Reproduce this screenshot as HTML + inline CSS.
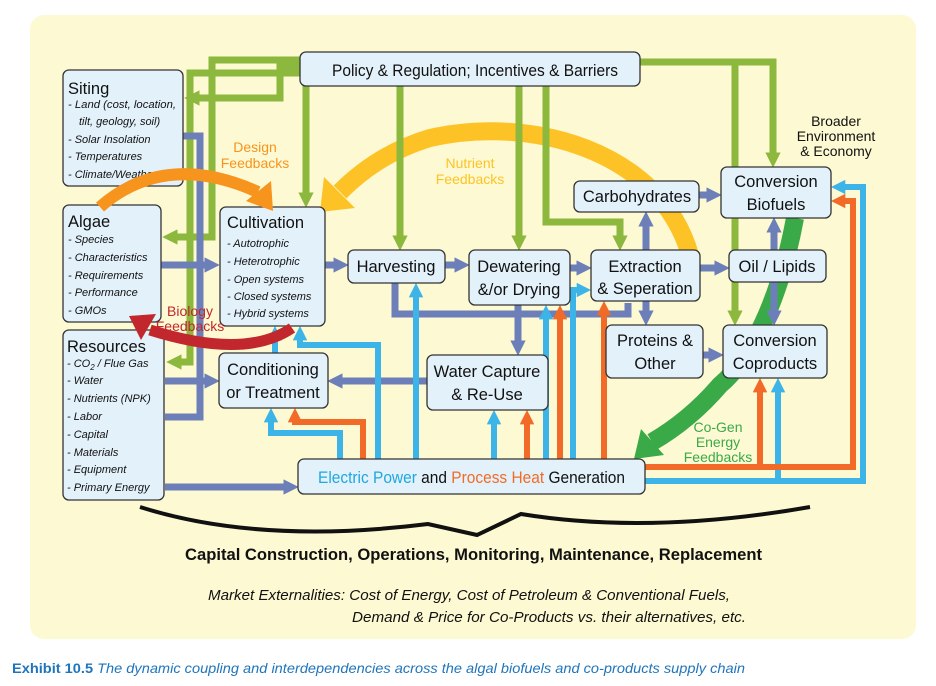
<!DOCTYPE html>
<html><head><meta charset="utf-8"><style>
html,body{margin:0;padding:0;background:#fff;}
svg{display:block;font-family:"Liberation Sans",sans-serif;}
.bx{fill:#e3f1fa;stroke:#333;stroke-width:1.3;}
.t{font-size:16.5px;fill:#111;}
.i{font-size:11px;font-style:italic;fill:#111;}
.g{stroke:#8cb83e;stroke-width:7;fill:none;}
.b{stroke:#6d7fb9;stroke-width:7;fill:none;}
.l{stroke:#3db4e8;stroke-width:6;fill:none;}
.o{stroke:#f26a27;stroke-width:6;fill:none;}
</style></head><body>
<svg width="936" height="686" viewBox="0 0 936 686" xmlns="http://www.w3.org/2000/svg">
<defs>
<marker id="mg" viewBox="0 0 10 10" refX="3" refY="5" markerWidth="2.2" markerHeight="2.2" orient="auto"><path d="M0,0L10,5L0,10z" fill="#8cb83e"/></marker>
<marker id="mb" viewBox="0 0 10 10" refX="3" refY="5" markerWidth="2.2" markerHeight="2.2" orient="auto"><path d="M0,0L10,5L0,10z" fill="#6d7fb9"/></marker>
<marker id="ml" viewBox="0 0 10 10" refX="3" refY="5" markerWidth="2.4" markerHeight="2.4" orient="auto"><path d="M0,0L10,5L0,10z" fill="#3db4e8"/></marker>
<marker id="mo" viewBox="0 0 10 10" refX="3" refY="5" markerWidth="2.4" markerHeight="2.4" orient="auto"><path d="M0,0L10,5L0,10z" fill="#f26a27"/></marker>
</defs>
<rect x="30" y="15" width="886" height="624" rx="14" fill="#fdf9d2"/>

<path d="M690,255 C660,150 530,115 430,138 C390,150 362,170 340,192" stroke="#fdc326" stroke-width="18" fill="none"/>
<polygon points="355,208 324,177 320,212" fill="#fdc326"/>
<path d="M795,218 C780,300 750,360 720,385 Q690,420 652,442" stroke="#3aaa49" stroke-width="18" fill="none"/>
<polygon points="664,455 641,429 634,459" fill="#3aaa49"/>

<path class="g" d="M300,60H212V237H173" marker-end="url(#mg)"/>
<path class="g" d="M300,73H190V362H177" marker-end="url(#mg)"/>
<path class="g" d="M300,67H280V98H195" marker-end="url(#mg)"/>
<path class="g" d="M306,86V197" marker-end="url(#mg)"/>
<path class="g" d="M400,86V240" marker-end="url(#mg)"/>
<path class="g" d="M519,86V240" marker-end="url(#mg)"/>
<path class="g" d="M546,86V222H620V240" marker-end="url(#mg)"/>
<path class="g" d="M640,62H773V157" marker-end="url(#mg)"/>
<path class="g" d="M735,62V315" marker-end="url(#mg)"/>

<path class="b" d="M183,136H200V417H165"/>
<path class="b" d="M165,381H209" marker-end="url(#mb)"/>
<path class="b" d="M161,265H209" marker-end="url(#mb)"/>
<path class="b" d="M325,265H338" marker-end="url(#mb)"/>
<path class="b" d="M445,265H459" marker-end="url(#mb)"/>
<path class="b" d="M570,268H581" marker-end="url(#mb)"/>
<path class="b" d="M700,268H719" marker-end="url(#mb)"/>
<path class="b" d="M699,195H711" marker-end="url(#mb)"/>
<path class="b" d="M646,250V222" marker-end="url(#mb)"/>
<path class="b" d="M646,301V315" marker-end="url(#mb)"/>
<path class="b" d="M703,355H713" marker-end="url(#mb)"/>
<path class="b" d="M774,250V228" marker-end="url(#mb)"/>
<path class="b" d="M774,282V315" marker-end="url(#mb)"/>
<path class="b" d="M395,283V314H628V303"/>
<path class="b" d="M518,305V345" marker-end="url(#mb)"/>
<path class="b" d="M427,381H338" marker-end="url(#mb)"/>
<path class="b" d="M165,487H288" marker-end="url(#mb)"/>

<path class="l" d="M340,459V433H271V418" marker-end="url(#ml)"/>
<path class="l" d="M275,353V336" marker-end="url(#ml)"/>
<path class="l" d="M378,459V345H300V336" marker-end="url(#ml)"/>
<path class="l" d="M416,459V293" marker-end="url(#ml)"/>
<path class="l" d="M494,459V420" marker-end="url(#ml)"/>
<path class="l" d="M546,459V315" marker-end="url(#ml)"/>
<path class="l" d="M573,459V290H581" marker-end="url(#ml)"/>
<path class="l" d="M645,481H863V187H841" marker-end="url(#ml)"/>
<path class="l" d="M778,481V388" marker-end="url(#ml)"/>

<path class="o" d="M363,459V422H295V418" marker-end="url(#mo)"/>
<path class="o" d="M527,459V420" marker-end="url(#mo)"/>
<path class="o" d="M560,459V315" marker-end="url(#mo)"/>
<path class="o" d="M604,459V311" marker-end="url(#mo)"/>
<path class="o" d="M645,467H853V201H841" marker-end="url(#mo)"/>
<path class="o" d="M760,467V388" marker-end="url(#mo)"/>

<rect class="bx" x="300" y="52" width="340" height="34" rx="6"/>
<text class="t" x="332" y="76" textLength="286" lengthAdjust="spacingAndGlyphs">Policy &amp; Regulation; Incentives &amp; Barriers</text>

<rect class="bx" x="63" y="70" width="120" height="116" rx="6"/>
<text class="t" x="68" y="94">Siting</text>
<text class="i" x="68" y="108" textLength="108" lengthAdjust="spacingAndGlyphs">- Land (cost, location,</text>
<text class="i" x="79" y="125">tilt, geology, soil)</text>
<text class="i" x="68" y="143">- Solar Insolation</text>
<text class="i" x="68" y="160">- Temperatures</text>
<text class="i" x="68" y="178">- Climate/Weather</text>

<rect class="bx" x="63" y="205" width="98" height="117" rx="6"/>
<text class="t" x="68" y="227">Algae</text>
<text class="i" x="68" y="243">- Species</text>
<text class="i" x="68" y="261">- Characteristics</text>
<text class="i" x="68" y="279">- Requirements</text>
<text class="i" x="68" y="296">- Performance</text>
<text class="i" x="68" y="314">- GMOs</text>

<rect class="bx" x="63" y="330" width="101" height="170" rx="6"/>
<text class="t" x="67" y="352">Resources</text>
<text class="i" x="67" y="367">- CO<tspan font-size="8" dy="3">2</tspan><tspan dy="-3"> / Flue Gas</tspan></text>
<text class="i" x="67" y="384">- Water</text>
<text class="i" x="67" y="402">- Nutrients (NPK)</text>
<text class="i" x="67" y="420">- Labor</text>
<text class="i" x="67" y="438">- Capital</text>
<text class="i" x="67" y="456">- Materials</text>
<text class="i" x="67" y="473">- Equipment</text>
<text class="i" x="67" y="491">- Primary Energy</text>

<rect class="bx" x="220" y="207" width="105" height="119" rx="6"/>
<text class="t" x="227" y="228">Cultivation</text>
<text class="i" x="227" y="247">- Autotrophic</text>
<text class="i" x="227" y="265">- Heterotrophic</text>
<text class="i" x="227" y="283">- Open systems</text>
<text class="i" x="227" y="300">- Closed systems</text>
<text class="i" x="227" y="317">- Hybrid systems</text>

<rect class="bx" x="348" y="250" width="97" height="33" rx="6"/>
<text class="t" x="396" y="272" text-anchor="middle">Harvesting</text>
<rect class="bx" x="469" y="250" width="101" height="55" rx="6"/>
<text class="t" x="519" y="272" text-anchor="middle">Dewatering</text>
<text class="t" x="519" y="295" text-anchor="middle">&amp;/or Drying</text>
<rect class="bx" x="591" y="250" width="109" height="51" rx="6"/>
<text class="t" x="645" y="272" text-anchor="middle">Extraction</text>
<text class="t" x="645" y="294" text-anchor="middle">&amp; Seperation</text>
<rect class="bx" x="574" y="181" width="125" height="31" rx="6"/>
<text class="t" x="637" y="202" text-anchor="middle">Carbohydrates</text>
<rect class="bx" x="721" y="167" width="110" height="51" rx="6"/>
<text class="t" x="776" y="187" text-anchor="middle">Conversion</text>
<text class="t" x="776" y="210" text-anchor="middle">Biofuels</text>
<rect class="bx" x="729" y="250" width="97" height="32" rx="6"/>
<text class="t" x="777" y="272" text-anchor="middle">Oil / Lipids</text>
<rect class="bx" x="606" y="325" width="97" height="53" rx="6"/>
<text class="t" x="655" y="346" text-anchor="middle">Proteins &amp;</text>
<text class="t" x="655" y="369" text-anchor="middle">Other</text>
<rect class="bx" x="723" y="325" width="104" height="53" rx="6"/>
<text class="t" x="775" y="346" text-anchor="middle">Conversion</text>
<text class="t" x="775" y="369" text-anchor="middle">Coproducts</text>
<rect class="bx" x="219" y="353" width="109" height="55" rx="6"/>
<text class="t" x="273" y="375" text-anchor="middle">Conditioning</text>
<text class="t" x="273" y="398" text-anchor="middle">or Treatment</text>
<rect class="bx" x="427" y="355" width="121" height="55" rx="6"/>
<text class="t" x="487" y="377" text-anchor="middle">Water Capture</text>
<text class="t" x="487" y="400" text-anchor="middle">&amp; Re-Use</text>
<rect class="bx" x="298" y="459" width="347" height="35" rx="6"/>
<text class="t" x="318" y="483" textLength="307" lengthAdjust="spacingAndGlyphs"><tspan fill="#1fa8e0">Electric Power</tspan> and <tspan fill="#f26a27">Process Heat</tspan> Generation</text>

<!-- orange design & red biology, drawn over boxes -->
<path d="M100,207 Q165,150 258,192" stroke="#f7941d" stroke-width="12" fill="none"/>
<polygon points="271,181 246,201 273,211" fill="#f7941d"/>
<path d="M292,328 Q245,360 150,330" stroke="#c1272d" stroke-width="11" fill="none"/>
<polygon points="156,314 141,340 129,316" fill="#c1272d"/>

<g font-size="14" text-anchor="middle">
<text x="255" y="152" fill="#f7941d">Design</text><text x="255" y="168" fill="#f7941d">Feedbacks</text>
<text x="470" y="168" fill="#fdc326">Nutrient</text><text x="470" y="184" fill="#fdc326">Feedbacks</text>
<text x="190" y="316" fill="#c1272d">Biology</text><text x="190" y="331" fill="#c1272d">Feedbacks</text>
<text x="718" y="432" fill="#3aaa49">Co-Gen</text><text x="718" y="447" fill="#3aaa49">Energy</text><text x="718" y="462" fill="#3aaa49">Feedbacks</text>
<text x="836" y="126" fill="#111">Broader</text><text x="836" y="141" fill="#111">Environment</text><text x="836" y="156" fill="#111">&amp; Economy</text>
</g>

<path d="M140,507 Q260,545 428,524 L477,535 L521,514 Q650,535 810,507" stroke="#111" stroke-width="4" fill="none"/>
<text x="185" y="560" font-size="17" font-weight="bold" fill="#111" textLength="577" lengthAdjust="spacingAndGlyphs">Capital Construction, Operations, Monitoring, Maintenance, Replacement</text>
<text x="208" y="600" font-size="15" font-style="italic" fill="#111" textLength="522" lengthAdjust="spacingAndGlyphs">Market Externalities: Cost of Energy, Cost of Petroleum &amp; Conventional Fuels,</text>
<text x="352" y="622" font-size="15" font-style="italic" fill="#111" textLength="394" lengthAdjust="spacingAndGlyphs">Demand &amp; Price for Co-Products vs. their alternatives, etc.</text>

<text x="12" y="673" font-size="14" fill="#1f75bc" textLength="733" lengthAdjust="spacingAndGlyphs"><tspan font-weight="bold">Exhibit 10.5</tspan><tspan font-style="italic"> The dynamic coupling and interdependencies across the algal biofuels and co-products supply chain</tspan></text>
</svg>
</body></html>
